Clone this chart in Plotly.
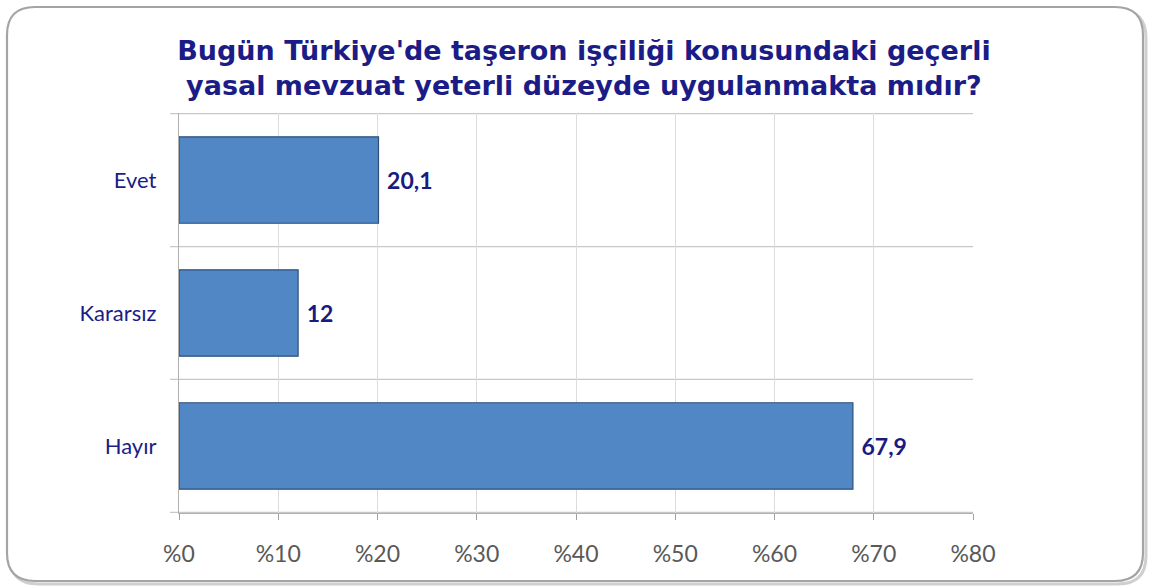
import plotly.graph_objects as go

categories = ["Evet", "Kararsız", "Hayır"]
values = [20.1, 12, 67.9]
labels = ["20,1", "12", "67,9"]
x_ticks = [0, 10, 20, 30, 40, 50, 60, 70, 80]
x_tick_text = ["%0", "%10", "%20", "%30", "%40", "%50", "%60", "%70", "%80"]
title_text = "Bugün Türkiye'de taşeron işçiliği konusundaki geçerli<br>yasal mevzuat yeterli düzeyde uygulanmakta mıdır?"

W, H = 1149, 588
L, R, T, B = 179, 176, 113, 75
pw, ph = W - L - R, H - T - B

def px(x):
    return (x - L) / pw

def py(y):
    return 1 - (y - T) / ph

fig = go.Figure()
fig.add_trace(go.Bar(
    y=categories, x=values, orientation="h",
    text=labels, texttemplate=" %{text}", textposition="outside", cliponaxis=False,
    textfont=dict(family="Lato, Open Sans, sans-serif", size=23, color="#1a1a80", weight="bold"),
    marker=dict(color="#5287C6", line=dict(color="#2c4f7a", width=1.2)),
    width=0.65, hoverinfo="skip",
))

def rounded(xa, xb, ya, yb, rad):
    x0, x1, y0, y1 = px(xa), px(xb), py(yb), py(ya)
    r_x, r_y = rad / pw, rad / ph
    return (f"M {x0+r_x},{y1} L {x1-r_x},{y1} Q {x1},{y1} {x1},{y1-r_y} "
            f"L {x1},{y0+r_y} Q {x1},{y0} {x1-r_x},{y0} L {x0+r_x},{y0} "
            f"Q {x0},{y0} {x0},{y0+r_y} L {x0},{y1-r_y} Q {x0},{y1} {x0+r_x},{y1} Z")

shapes = []
shapes.append(dict(type="path", xref="paper", yref="paper", path=rounded(10, 1146, 10, 584, 28),
                   line=dict(color="#cfcfcf", width=3), layer="below"))
shapes.append(dict(type="path", xref="paper", yref="paper", path=rounded(7, 1143, 7, 581, 28),
                   line=dict(color="#a4a4a4", width=2.2), fillcolor="white", layer="below"))
for yb in [-0.5, 0.5, 1.5, 2.5]:
    shapes.append(dict(type="line", xref="paper", yref="y", x0=-9 / pw, x1=1,
                       y0=yb, y1=yb, line=dict(color="#c8c8c8", width=1.2), layer="below"))

fig.update_layout(
    width=W, height=H,
    margin=dict(l=L, r=R, t=T, b=B),
    paper_bgcolor="white", plot_bgcolor="rgba(0,0,0,0)",
    title=dict(text=title_text, x=0.51, xref="paper", xanchor="center",
               y=1 - 60 / H, yanchor="middle",
               font=dict(family="DejaVu Sans, sans-serif", size=27, color="#1c1c86", weight="bold")),
    xaxis=dict(range=[0, 80], tickvals=x_ticks, ticktext=x_tick_text,
               showgrid=True, gridcolor="#dcdcdc", gridwidth=1,
               showline=True, linecolor="#b0b0b0", linewidth=1.2,
               ticks="outside", ticklen=6, tickcolor="#a0a0a0",
               ticklabelstandoff=14,
               tickfont=dict(family="Lato, Open Sans, sans-serif", size=23, color="#595959"),
               zeroline=False, fixedrange=True),
    yaxis=dict(autorange="reversed", showgrid=False,
               showline=True, linecolor="#b0b0b0", linewidth=1.2,
               ticks="", ticklabelstandoff=17,
               tickfont=dict(family="Lato, Open Sans, sans-serif", size=22, color="#1c1c86"),
               fixedrange=True),
    shapes=shapes,
    bargap=0.35,
    showlegend=False,
)

fig.write_html("out.html", config={"displayModeBar": False},
               post_script="document.body.style.margin='0';")
